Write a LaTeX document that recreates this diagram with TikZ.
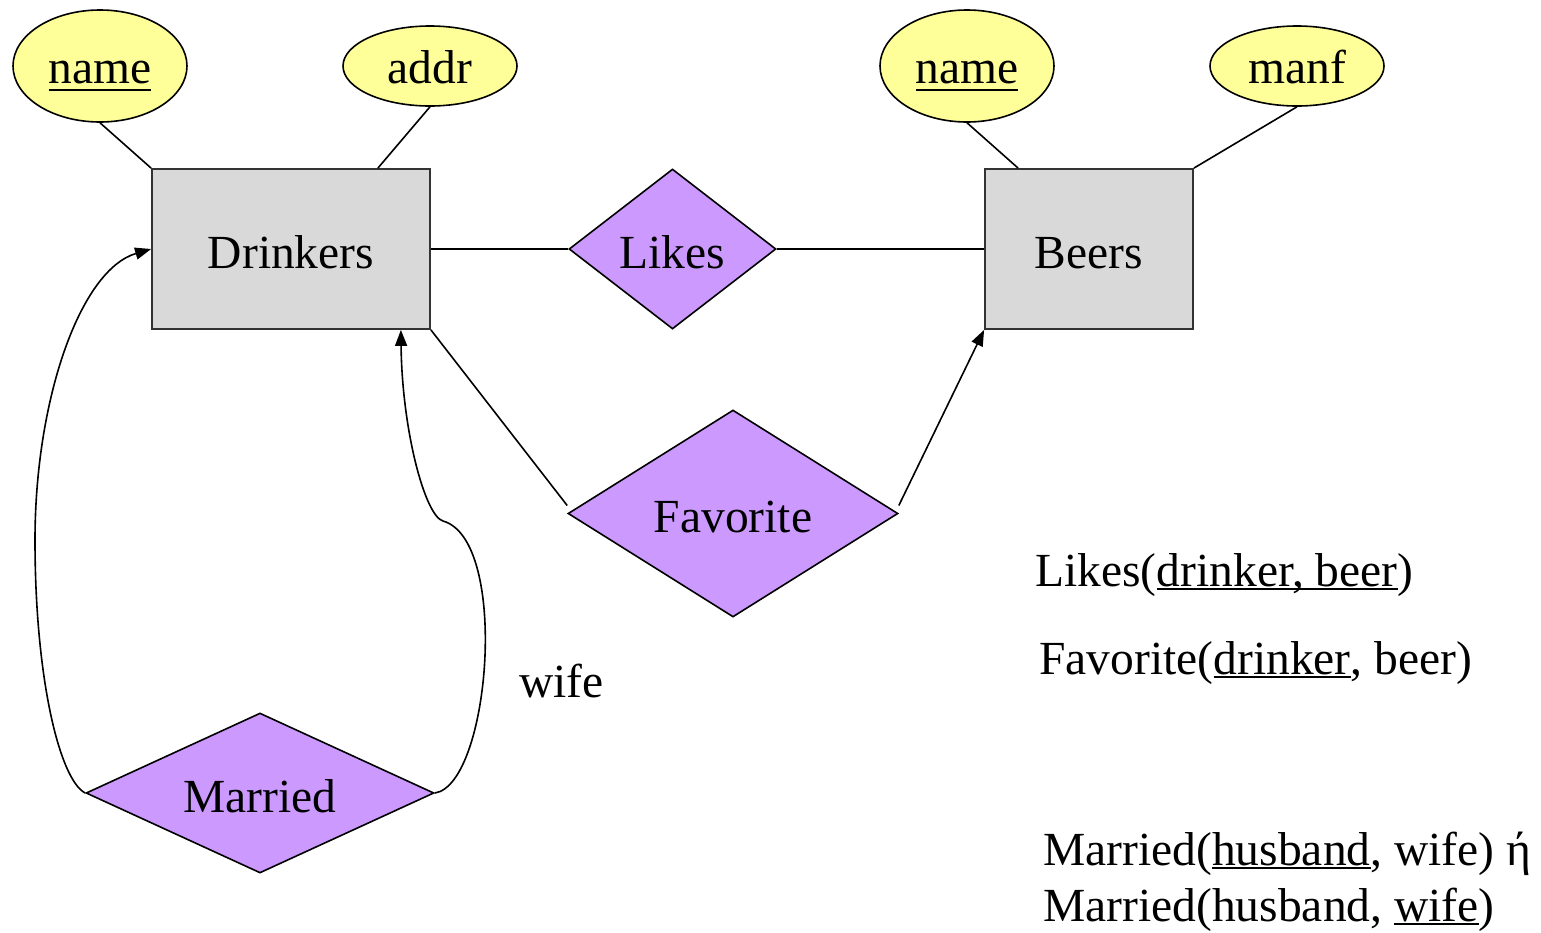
\documentclass[tikz,border=0pt]{standalone}
\usepackage{fontspec}
\setmainfont{Liberation Serif}
\usetikzlibrary{shapes.geometric,arrows.meta}
\definecolor{attrfill}{HTML}{FFFF99}
\definecolor{entfill}{HTML}{D9D9D9}
\definecolor{relfill}{HTML}{CC99FF}
\newcommand\myul[2][2pt]{\leavevmode\setbox0=\hbox{#2}\rlap{\rule[-#1]{\wd0}{1pt}}\box0}
\tikzset{
  attr/.style={ellipse, draw, fill=attrfill, line width=0.8pt, inner sep=0pt, text height=19.5pt, text depth=2.5pt},
  ent/.style={rectangle, draw=black!80, fill=entfill, line width=0.9pt, inner sep=0pt, text height=21pt, text depth=2pt},
  rel/.style={diamond, aspect=2, draw, fill=relfill, line width=0.8pt, inner sep=0pt, text height=21pt, text depth=2pt},
  conn/.style={line width=0.8pt},
  arr/.style={line width=0.8pt, -{Triangle[length=8pt,width=6pt]}},
  reltext/.style={anchor=base west, inner sep=0pt}
}
\begin{document}
\begin{tikzpicture}[x=0.5pt, y=-0.5pt, font=\fontsize{23.75pt}{28pt}\selectfont]
\useasboundingbox (0,0) rectangle (1541,932);
% attributes
\node[attr, minimum width=87pt, minimum height=56pt] (n1) at (100,66) {\myul[4pt]{name}};
\node[attr, minimum width=87pt, minimum height=40pt] (a1) at (430,66) {addr};
\node[attr, minimum width=87pt, minimum height=56pt] (n2) at (967,66) {\myul[4pt]{name}};
\node[attr, minimum width=87pt, minimum height=40pt] (m2) at (1297,66) {manf};
% entities
\node[ent, minimum width=139pt, minimum height=80pt] (d) at (291,249) {Drinkers};
\node[ent, minimum width=104pt, minimum height=80pt] (b) at (1089,249) {Beers};
% relationships
\node[rel, minimum width=103.5pt, minimum height=80pt] (l) at (672.5,249) {Likes};
\node[rel, minimum width=165pt, minimum height=103.5pt] (f) at (733,513.5) {Favorite};
\node[rel, minimum width=174pt, minimum height=80pt] (mar) at (260,793) {Married};
% attribute connectors
\draw[conn] (n1.south) -- (d.north west);
\draw[conn] (a1.south) -- ([xshift=-26.5pt]d.north east);
\draw[conn] (n2.south) -- ([xshift=17pt]b.north west);
\draw[conn] (m2.south) -- (b.north east);
% relationship connectors
\draw[conn] (d.east) -- (l.west);
\draw[conn] (l.east) -- (b.west);
\draw[conn] (d.south east) -- ([yshift=4pt]f.west);
\draw[arr] ([yshift=4pt]f.east) -- (b.south west);
\draw[arr] (mar.west) .. controls (60,780) and (35,680) .. (35,540)
  .. controls (35,400) and (80,270) .. (d.west);
\draw[arr] (mar.east) .. controls (490,785) and (510,540) .. (443,521)
  .. controls (425,516) and (402,430) .. ([xshift=-15pt]d.south east);
\node[reltext] (wife) at (519,697) {wife};
% relational schemas
\node[reltext] (t1) at (1035,586) {Likes(\myul{drinker, beer})};
\node[reltext] (t2) at (1039,674) {Favorite(\myul{drinker}, beer)};
\node[reltext] (t3) at (1043,865) {Married(\myul{husband}, wife) ή};
\node[reltext] (t4) at (1043,921) {Married(husband, \myul{wife})};
\end{tikzpicture}
\end{document}
